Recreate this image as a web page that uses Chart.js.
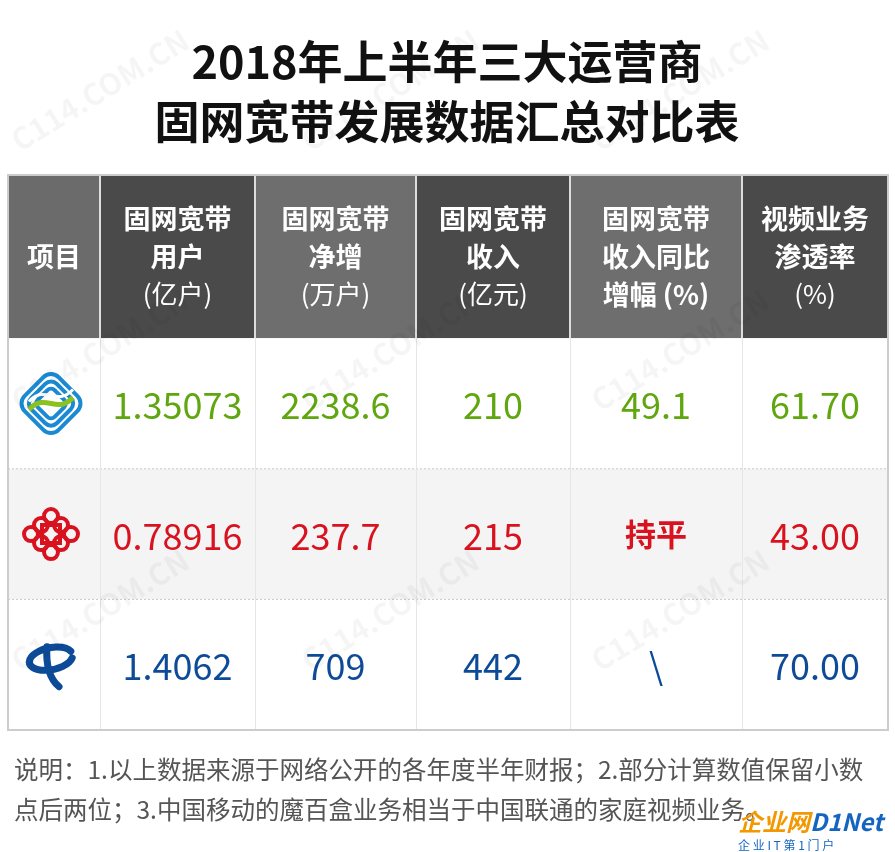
<!DOCTYPE html>
<html><head><meta charset="utf-8">
<script src="https://cdn.jsdelivr.net/npm/chart.js@4"></script>
<style>html,body{margin:0;padding:0;background:#fff}#c{display:block}</style>
</head><body>
<div style="width:895px;height:852px"><canvas id="c"></canvas></div>
<script>
const titleLines = ['2018年上半年三大运营商','固网宽带发展数据汇总对比表'];
const headers = [['项目'],['固网宽带','用户','(亿户)'],['固网宽带','净增','(万户)'],['固网宽带','收入','(亿元)'],['固网宽带','收入同比','增幅 (%)'],['视频业务','渗透率','(%)']];
const operators = ['中国移动','中国联通','中国电信'];
const users = ['1.35073','0.78916','1.4062'];
const netAdd = ['2238.6','237.7','709'];
const revenue = ['210','215','442'];
const growth = ['49.1','持平','\\'];
const video = ['61.70','43.00','70.00'];
const rowColors = ['#5fa60f','#d9121f','#0d4a98'];
const notes = ['说明：1.以上数据来源于网络公开的各年度半年财报；2.部分计算数值保留小数','点后两位；3.中国移动的魔百盒业务相当于中国联通的家庭视频业务。'];
const colW = [92,155,161,154,172,146];
const FONT = '"Noto Sans CJK SC", "Noto Sans", sans-serif';

function logo(ctx, i, cx, cy){
  ctx.save();
  if(i===0){
    ctx.translate(cx,cy); ctx.rotate(Math.PI/4);
    ctx.strokeStyle='#1a8ad4'; ctx.lineWidth=4;
    for(let k=0;k<3;k++){const r=24-k*6; ctx.beginPath(); ctx.roundRect(-r,-r,2*r,2*r,r*0.45); ctx.stroke();}
    ctx.rotate(-Math.PI/4);
    ctx.strokeStyle='#8cc21f'; ctx.lineWidth=5; ctx.beginPath(); ctx.moveTo(-22,6); ctx.bezierCurveTo(-5,-12,5,12,22,-6); ctx.stroke();
    ctx.strokeStyle='#fff'; ctx.lineWidth=3; ctx.beginPath(); ctx.moveTo(-22,-2); ctx.bezierCurveTo(-5,-20,5,4,22,-14); ctx.stroke();
  } else if(i===1){
    ctx.translate(cx,cy); ctx.strokeStyle='#d9121f'; ctx.lineWidth=4;
    const pts=[[-20,0],[20,0],[0,-18],[0,18],[-10,-9],[10,-9],[-10,9],[10,9]];
    pts.forEach(p=>{ctx.beginPath(); ctx.arc(p[0],p[1],7,0,Math.PI*2); ctx.stroke();});
    ctx.beginPath(); ctx.rect(-9,-9,18,18); ctx.stroke();
  } else {
    ctx.translate(cx,cy); ctx.strokeStyle='#0d4a98'; ctx.lineWidth=7; ctx.lineCap='round';
    ctx.beginPath(); ctx.ellipse(0,-6,22,11,-0.2,Math.PI*0.1,Math.PI*1.9); ctx.stroke();
    ctx.beginPath(); ctx.moveTo(-4,-18); ctx.quadraticCurveTo(-6,10,8,22); ctx.stroke();
  }
  ctx.restore();
}

const tablePlugin = {
  id:'table',
  beforeDraw(chart){
    const ctx=chart.ctx, a=chart.chartArea, W=chart.width;
    ctx.save();
    ctx.fillStyle='#fff'; ctx.fillRect(0,0,W,chart.height);
    ctx.textAlign='center'; ctx.textBaseline='middle';
    // title
    ctx.fillStyle='#111'; ctx.font='bold 45px '+FONT;
    titleLines.forEach((t,i)=>ctx.fillText(t,447,62+i*60));
    const ys=chart.scales.y;
    const xs=[a.left]; colW.forEach(w=>xs.push(xs[xs.length-1]+w));
    const headTop=ys.getPixelForValue(-1.75), headBot=ys.getPixelForValue(-0.5);
    // header
    for(let c=0;c<6;c++){
      ctx.fillStyle = c===0?'#6b6b6b':(c%2===1?'#4a4a4a':'#6e6e6e');
      ctx.fillRect(xs[c],headTop,xs[c+1]-xs[c],headBot-headTop);
      ctx.fillStyle='#fff';
      const L=headers[c], mid=(xs[c]+xs[c+1])/2, hm=(headTop+headBot)/2;
      L.forEach((t,k)=>{ctx.font=(k===2&&c!==4?'26px ':'bold 27px ')+FONT; ctx.fillText(t,mid,hm+(k-(L.length-1)/2)*38);});
    }
    ctx.strokeStyle='#ddd'; ctx.lineWidth=2;
    for(let c=1;c<6;c++){ctx.beginPath();ctx.moveTo(xs[c],headTop);ctx.lineTo(xs[c],headBot);ctx.stroke();}
    // rows
    const cols=[users,netAdd,revenue,growth,video];
    for(let r=0;r<3;r++){
      const cy=ys.getPixelForValue(r), top=ys.getPixelForValue(r-0.5), bot=ys.getPixelForValue(r+0.5);
      ctx.fillStyle = r===1?'#f4f4f4':'#fff'; ctx.fillRect(a.left,top,a.right-a.left,bot-top);
      logo(ctx,r,(xs[0]+xs[1])/2-3,cy);
      ctx.fillStyle=rowColors[r];
      for(let c=0;c<5;c++){
        const v=cols[c][r];
        ctx.font=(v==='持平'?'bold 31px ':'36px ')+FONT;
        ctx.fillText(v,(xs[c+1]+xs[c+2])/2,cy+(v==='持平'?0:2));
      }
      if(r>0){ctx.strokeStyle='#c8c8c8';ctx.lineWidth=1;ctx.setLineDash([2,2]);ctx.beginPath();ctx.moveTo(a.left,top);ctx.lineTo(a.right,top);ctx.stroke();ctx.setLineDash([]);}
    }
    ctx.strokeStyle='#e6e6e6'; ctx.lineWidth=1;
    for(let c=1;c<6;c++){ctx.beginPath();ctx.moveTo(xs[c]+0.5,headBot);ctx.lineTo(xs[c]+0.5,a.bottom);ctx.stroke();}
    ctx.strokeStyle='#ccc'; ctx.lineWidth=2; ctx.strokeRect(a.left,a.top,a.right-a.left,a.bottom-a.top);
    // watermarks
    ctx.fillStyle='rgba(0,0,0,0.04)'; ctx.font='bold 30px '+FONT;
    for(let y=90;y<852;y+=260)for(let x=100;x<895;x+=290){ctx.save();ctx.translate(x,y);ctx.rotate(-0.55);ctx.fillText('C114.COM.CN',0,0);ctx.restore();}
    // notes
    ctx.textAlign='left'; ctx.fillStyle='#555'; ctx.font='24.5px '+FONT;
    notes.forEach((t,i)=>ctx.fillText(t,14,770+i*40));
    // brand
    ctx.font='bold italic 24px '+FONT; ctx.fillStyle='#f39800'; ctx.fillText('企业网',738,822);
    ctx.fillStyle='#1565c0'; ctx.fillText('D1Net',810,822);
    ctx.font='12px '+FONT; ctx.fillText('企 业 I T 第 1 门 户',738,845);
    ctx.restore();
  }
};

new Chart(document.getElementById('c'),{
  type:'scatter',
  data:{datasets:[{data:operators.map((o,i)=>({x:0,y:i})),pointRadius:0}]},
  options:{
    responsive:true,maintainAspectRatio:false,animation:false,
    layout:{padding:{left:8,right:7,top:175,bottom:122}},
    plugins:{legend:{display:false},tooltip:{enabled:false}},
    scales:{
      x:{display:false,min:0,max:1},
      y:{type:'linear',reverse:true,min:-1.75,max:2.5,display:false}
    }
  },
  plugins:[tablePlugin]
});
</script></body></html>
